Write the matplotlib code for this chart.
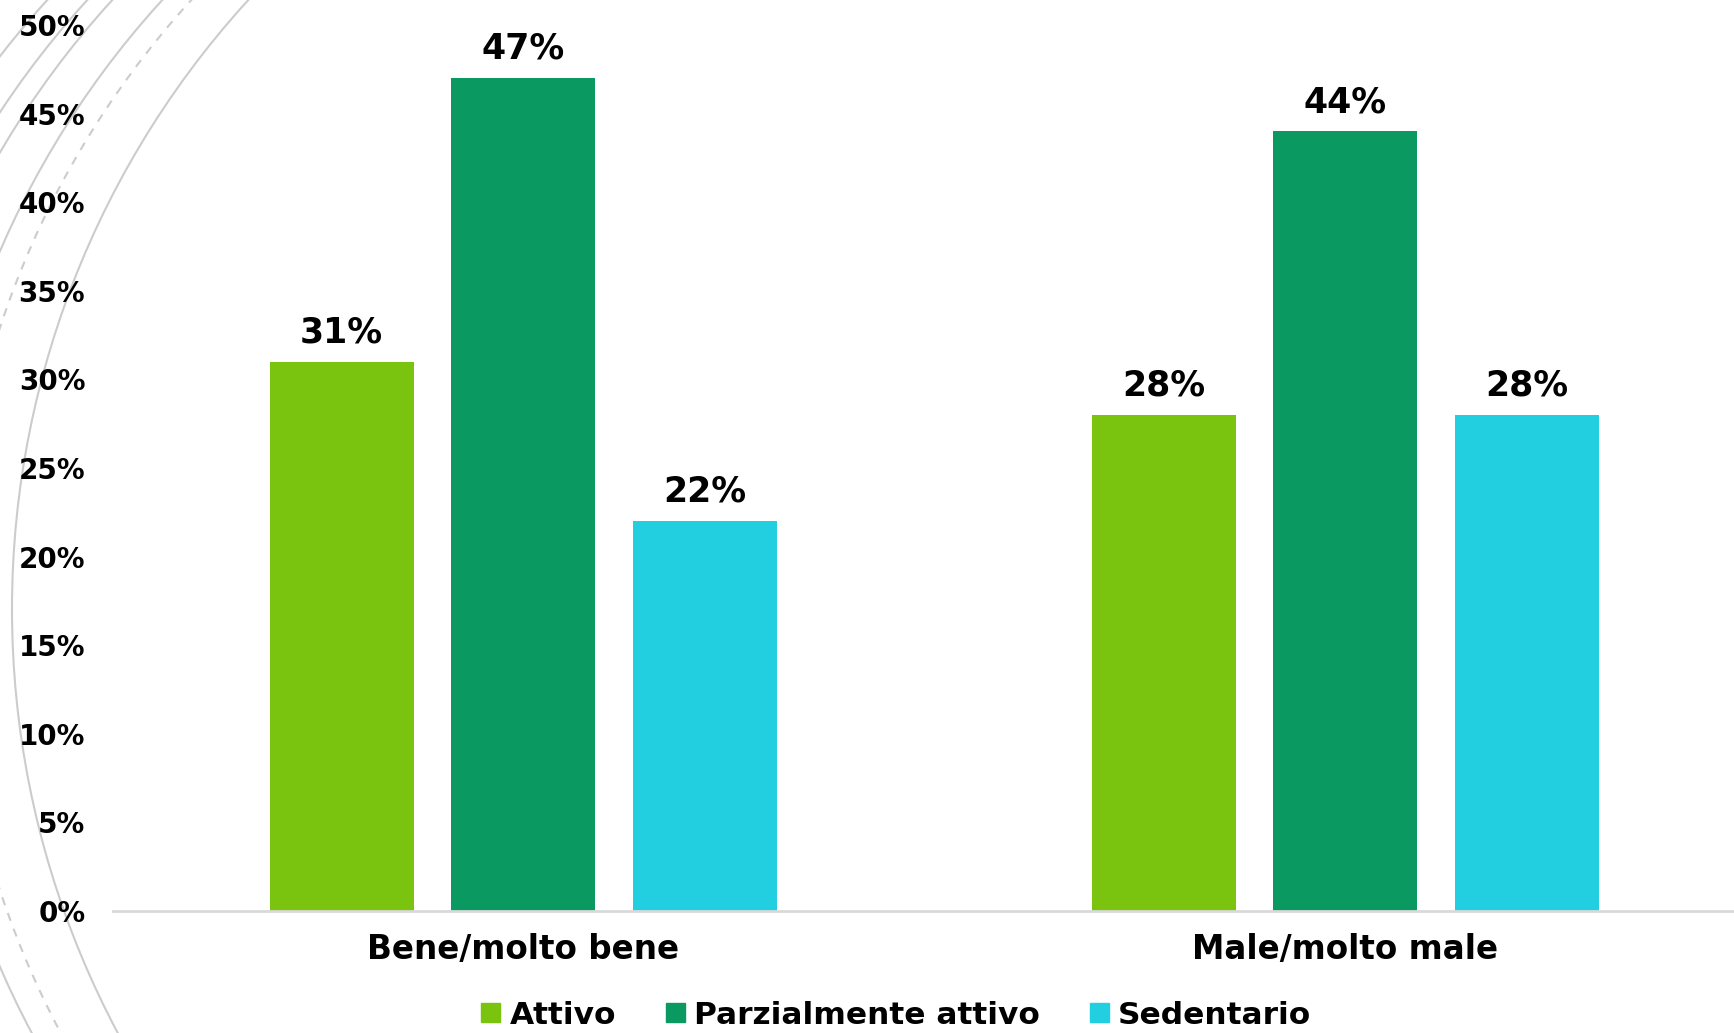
import matplotlib
matplotlib.use('Agg')
import matplotlib.pyplot as plt
from matplotlib.patches import Arc, Patch
import numpy as np

# dati
categorie = ['Bene/molto bene', 'Male/molto male']
serie = ['Attivo', 'Parzialmente attivo', 'Sedentario']
attivo = [31, 28]
parz_attivo = [47, 44]
sedentario = [22, 28]
colori = ['#7AC410', '#0B9962', '#22CFE0']
yticks = list(range(0, 51, 5))

fig = plt.figure(figsize=(17.34, 10.33), dpi=100)

# archi decorativi sul lato sinistro (coordinate in pixel)
bg = fig.add_axes([0, 0, 1, 1], zorder=0)
bg.set_xlim(0, 1734)
bg.set_ylim(1033, 0)
bg.axis('off')
for dx, ls in [(0, '-'), (57, (0, (4, 4))), (86, '-'), (136, '-'), (161, '-'), (201, '-')]:
    bg.add_patch(Arc((915 - dx, 609), 1806, 1806, theta1=90, theta2=270,
                     color='#cccccc', lw=1.5, linestyle=ls))

ax = fig.add_axes([0.0652, 0.1181, 0.9348, 0.8577], zorder=1)
ax.patch.set_visible(False)

x = np.arange(len(categorie))
w = 0.175
off = 0.2208
for i, (vals, nome, c) in enumerate(zip([attivo, parz_attivo, sedentario], serie, colori)):
    bars = ax.bar(x + (i - 1) * off, vals, w, color=c, label=nome)
    for b, v in zip(bars, vals):
        ax.annotate(f'{v}%', (b.get_x() + b.get_width() / 2, v), xytext=(0, 21),
                    textcoords='offset points', ha='center', va='center',
                    fontsize=25, fontweight='bold')

ax.set_xlim(-0.499, 1.473)
ax.set_ylim(0, 50)
ax.set_xticks(x)
ax.set_xticklabels(categorie)
ax.set_yticks(yticks)
ax.set_yticklabels([f'{t}%' for t in yticks])
ax.tick_params(axis='y', length=0, pad=20, labelsize=20)
ax.tick_params(axis='x', length=0, pad=16, labelsize=23.5)
for lab in ax.get_xticklabels() + ax.get_yticklabels():
    lab.set_fontweight('bold')
for s in ['left', 'top', 'right']:
    ax.spines[s].set_visible(False)
ax.spines['bottom'].set_color('#d9d9d9')
ax.spines['bottom'].set_linewidth(2)

handles = [Patch(color=c) for c in colori]
fig.legend(handles, serie, loc='center', bbox_to_anchor=(0.517, 0.0174), ncol=3,
           frameon=False, prop=dict(weight='bold', size=22.5),
           handlelength=0.6, handleheight=0.6, handletextpad=0.3, columnspacing=1.6)

fig.savefig('out.png', dpi=100)
